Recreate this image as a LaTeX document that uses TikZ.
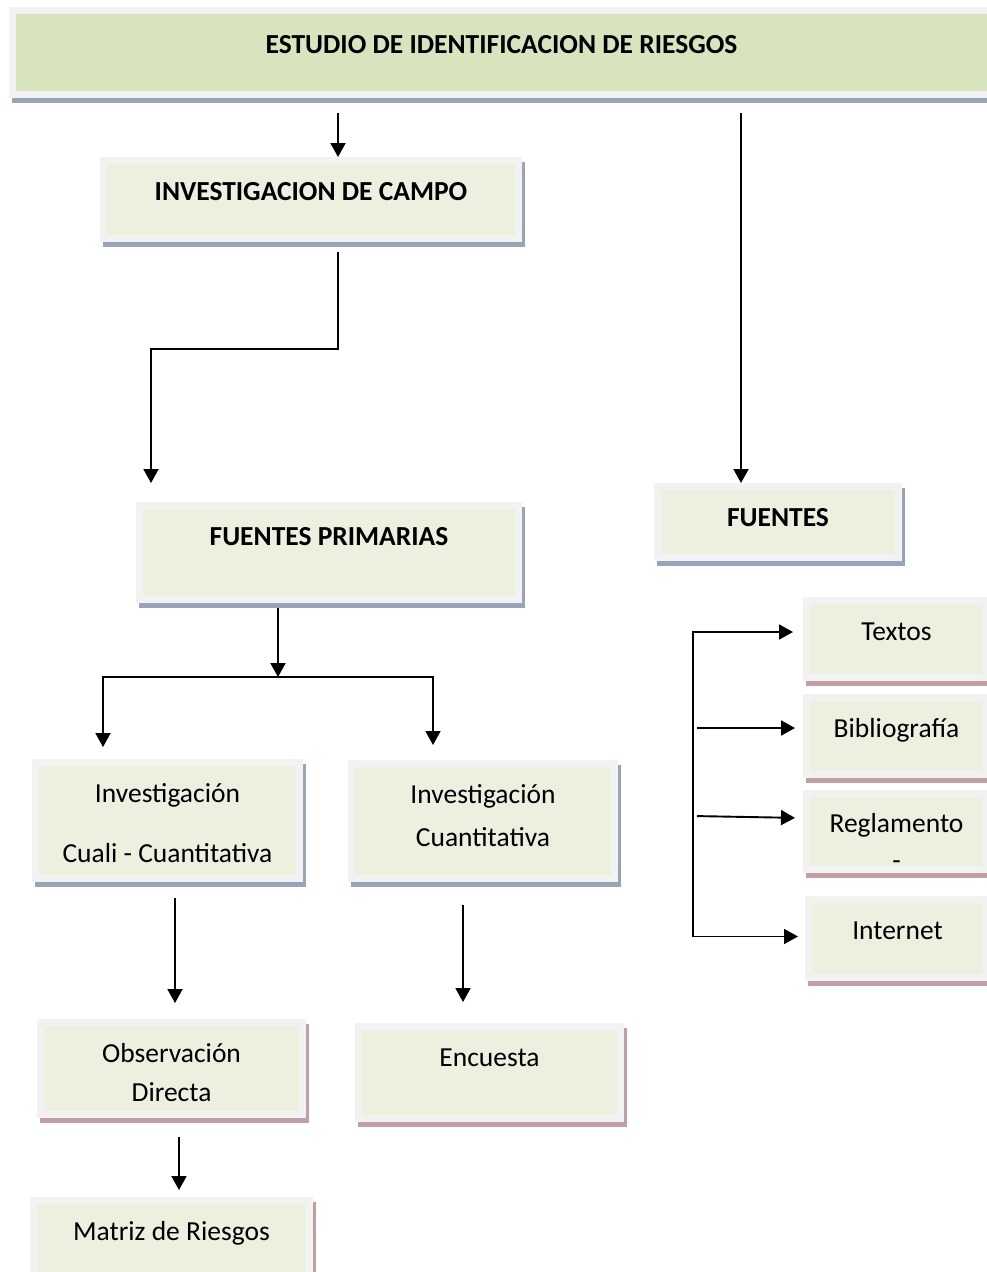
\documentclass[tikz,border=0pt]{standalone}
\usepackage{fontspec}
\setmainfont{Carlito}
\usetikzlibrary{arrows.meta, shadows}
\definecolor{boxgreen}{HTML}{EBF1DE}
\definecolor{titlegreen}{HTML}{D7E4BD}
\definecolor{boxrim}{HTML}{F2F2F2}
\definecolor{shadeblue}{HTML}{98A4B8}
\definecolor{shaderose}{HTML}{C29FA2}
\tikzset{headtip/.tip={Triangle[length=14pt, width=15pt]}}

\begin{document}
\begin{tikzpicture}[
        x=1pt, y=-1pt,
        box/.style={rectangle, draw=boxrim, line width=7pt, fill=boxgreen, outer sep=3.5pt,
            anchor=north west, align=center, inner xsep=0pt, inner ysep=21.7pt,
            text height=18pt, font=\fontsize{27.5}{33}\selectfont},
        headbox/.style={box, font=\fontsize{27.5}{33}\selectfont\bfseries},
        blueshade/.style={drop shadow={shadow xshift=3pt, shadow yshift=-5pt, opacity=1, fill=shadeblue, draw=shadeblue}},
        roseshade/.style={drop shadow={shadow xshift=3pt, shadow yshift=-5pt, opacity=1, fill=shaderose, draw=shaderose}},
        arr/.style={-headtip, line width=1.9pt}
        ]
        \path[use as bounding box, fill=white] (0,0) rectangle (987,1272);

        \node[headbox, blueshade, fill=titlegreen, inner ysep=25.2pt, minimum width=978pt, text depth=15.6pt] (title) at (9,7) {ESTUDIO DE IDENTIFICACION DE RIESGOS};
        \node[headbox, blueshade, minimum width=415pt, text depth=16.6pt] (campo) at (100,157) {INVESTIGACION DE CAMPO};
        \node[headbox, blueshade, minimum width=379pt, text depth=32.6pt] (prim) at (136,502) {FUENTES PRIMARIAS};
        \node[headbox, blueshade, minimum width=241pt, text depth=9.6pt] (fuentes) at (654,483) {FUENTES};
        \node[box, blueshade, minimum width=264pt, inner ysep=0pt, text height=99.7pt, text depth=16.3pt] (cuali) at (32,759) {Investigación\\[27pt]Cuali - Cuantitativa};
        \node[box, blueshade, minimum width=263pt, inner ysep=0pt, text height=82.7pt, text depth=32.3pt] (cuant) at (348,760) {Investigación\\[10pt]Cuantitativa};
        \node[box, roseshade, minimum width=262pt, inner ysep=0pt, text height=78.7pt, text depth=13.3pt] (obs) at (37,1019) {Observación\\[6pt]Directa};
        \node[box, roseshade, minimum width=262pt, text depth=30.6pt] (enc) at (355,1023) {Encuesta};
        \node[box, roseshade, minimum width=276pt, text depth=19.6pt] (matriz) at (30,1197) {Matriz de Riesgos};
        \node[box, roseshade, minimum width=180pt, text depth=15.6pt] (textos) at (803,597) {Textos};
        \node[box, roseshade, minimum width=180pt, text depth=15.6pt] (biblio) at (803,694) {Bibliografía};
        \node[box, roseshade, minimum width=180pt, inner ysep=0pt, text height=76pt, text depth=0pt] (regla) at (803,790) {Reglamento\\[4pt]-};
        \node[box, roseshade, minimum width=178pt, text depth=16.6pt] (internet) at (805,896) {Internet};

        % columns and bends of the connectors
        \coordinate (xa) at (338,0);
        \coordinate (xb) at (741,0);
        \coordinate (bend) at (151,349);
        \coordinate (split) at (278,677);
        \coordinate (xl) at (103,0);
        \coordinate (xr) at (433,0);
        \coordinate (xo) at (175,0);
        \coordinate (xq) at (463,0);
        \coordinate (xm) at (179,0);
        \coordinate (rail) at (693,800);

        \draw[arr, shorten <=15pt] (title.south -| xa) -- (campo.north -| xa);
        \draw[arr, shorten <=15pt] (title.south -| xb) -- (fuentes.north -| xb);
        \draw[arr, shorten <=10pt, shorten >=19pt] (campo.south -| xa) |- (bend) -- (prim.north -| bend);
        \draw[arr, shorten <=5pt] (prim.south -| split) -- (split);
        \draw[arr, shorten >=12pt] (split) -| (cuali.north -| xl);
        \draw[arr, shorten >=15pt] (split) -| (cuant.north -| xr);
        \draw[arr, shorten <=16pt, shorten >=16pt] (cuali.south -| xo) -- (obs.north -| xo);
        \draw[arr, shorten <=23pt, shorten >=21pt] (cuant.south -| xq) -- (enc.north -| xq);
        \draw[arr, shorten <=19pt, shorten >=7pt] (obs.south -| xm) -- (matriz.north -| xm);

        % fuentes secundarias
        \draw[arr, headtip-headtip, shorten <=10pt, shorten >=7pt] ([yshift=7pt]textos.west) -| (rail) |- ([yshift=2pt]internet.west);
        \draw[arr, shorten <=4pt, shorten >=8pt] ([yshift=8pt]biblio.west -| rail) -- ([yshift=8pt]biblio.west);
        \draw[arr, shorten <=4pt, shorten >=8pt] ([yshift=15.5pt]regla.west -| rail) -- ([yshift=13.5pt]regla.west);
\end{tikzpicture}
\end{document}
